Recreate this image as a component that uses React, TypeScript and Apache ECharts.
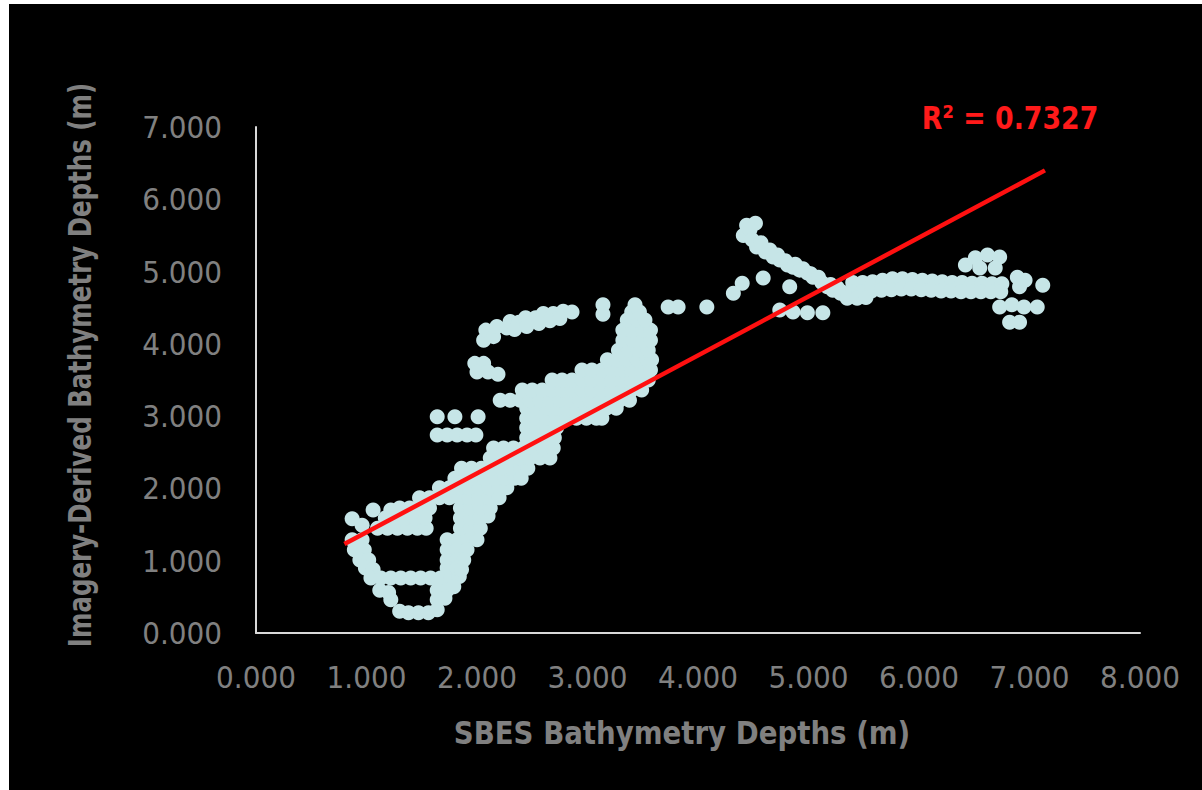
import React, { useEffect, useRef } from "react";
import * as echarts from "echarts";

// Tick labels
const xTickLabels = ["0.000", "1.000", "2.000", "3.000", "4.000", "5.000", "6.000", "7.000", "8.000"];
const yTickLabels = ["0.000", "1.000", "2.000", "3.000", "4.000", "5.000", "6.000", "7.000"];

// Scatter values [SBES depth, imagery-derived depth]
const lowerLoop: [number, number][] = [
  [0.87, 1.58], [0.96, 1.49], [1.06, 1.7], [1.22, 1.7],
  [0.87, 1.29], [0.96, 1.29], [0.89, 1.15], [0.98, 1.15], [0.94, 1.01], [1.02, 1.01], [0.99, 0.9], [1.06, 0.88],
  [1.04, 0.76], [1.13, 0.76], [1.22, 0.76], [1.31, 0.76], [1.4, 0.76], [1.49, 0.76], [1.58, 0.76], [1.67, 0.76], [1.76, 0.76], [1.84, 0.78],
  [1.12, 0.59], [1.2, 0.56], [1.64, 0.59], [1.73, 0.59], [1.79, 0.64],
  [1.22, 0.46], [1.64, 0.46], [1.71, 0.48],
  [1.3, 0.3], [1.38, 0.28], [1.47, 0.28], [1.56, 0.28], [1.64, 0.32],
  [1.73, 1.29], [1.82, 1.29], [1.91, 1.29], [2.0, 1.29], [1.73, 1.15], [1.82, 1.15], [1.91, 1.15],
  [1.73, 1.01], [1.82, 1.01], [1.88, 1.01], [1.73, 0.9], [1.82, 0.9], [1.86, 0.88],
  [1.1, 1.45], [1.19, 1.45], [1.28, 1.45], [1.37, 1.45], [1.46, 1.45], [1.54, 1.45], [1.85, 1.45], [1.94, 1.45], [2.03, 1.45],
  [1.17, 1.59], [1.26, 1.59], [1.35, 1.59], [1.44, 1.59], [1.53, 1.59], [1.85, 1.59], [1.94, 1.59], [2.03, 1.59], [2.1, 1.62],
  [1.3, 1.73], [1.39, 1.73], [1.48, 1.73], [1.57, 1.73], [1.85, 1.73], [1.94, 1.73], [2.03, 1.73], [2.12, 1.73],
  [1.48, 1.87], [1.57, 1.87], [1.66, 1.87], [1.75, 1.87], [1.84, 1.87], [1.93, 1.87], [2.02, 1.87], [2.11, 1.87], [2.2, 1.87],
];

const mainBand: [number, number][] = [
  [1.66, 2.01], [1.75, 2.01], [1.84, 2.01], [1.93, 2.01], [2.02, 2.01], [2.11, 2.01], [2.2, 2.01], [2.27, 2.01],
  [1.8, 2.14], [1.89, 2.14], [1.98, 2.14], [2.07, 2.14], [2.16, 2.14], [2.25, 2.14], [2.34, 2.14], [2.4, 2.14],
  [1.86, 2.28], [1.95, 2.28], [2.04, 2.28], [2.13, 2.28], [2.22, 2.28], [2.31, 2.28], [2.4, 2.28], [2.46, 2.28],
  [2.12, 2.42], [2.21, 2.42], [2.3, 2.42], [2.39, 2.42], [2.48, 2.42], [2.57, 2.42], [2.66, 2.42],
  [2.15, 2.56], [2.24, 2.56], [2.33, 2.56], [2.42, 2.56], [2.51, 2.56], [2.6, 2.56], [2.69, 2.56],
  [2.45, 2.7], [2.54, 2.7], [2.63, 2.7], [2.7, 2.7],
  [2.45, 2.84], [2.54, 2.84], [2.63, 2.84], [2.72, 2.84],
  [2.45, 2.97], [2.54, 2.97], [2.63, 2.97], [2.72, 2.97], [2.81, 2.97], [2.9, 2.97], [2.99, 2.97], [3.08, 2.97], [3.13, 2.97],
  [2.45, 3.11], [2.54, 3.11], [2.63, 3.11], [2.72, 3.11], [2.81, 3.11], [2.9, 3.11], [2.99, 3.11], [3.08, 3.11], [3.17, 3.11], [3.26, 3.11],
  [2.21, 3.22], [2.3, 3.22], [2.39, 3.22], [2.48, 3.22], [2.57, 3.22], [2.66, 3.22], [2.75, 3.22], [2.84, 3.22], [2.93, 3.22], [3.02, 3.22], [3.11, 3.22], [3.2, 3.22], [3.29, 3.22], [3.38, 3.22],
  [2.41, 3.36], [2.5, 3.36], [2.59, 3.36], [2.68, 3.36], [2.77, 3.36], [2.86, 3.36], [2.95, 3.36], [3.04, 3.36], [3.13, 3.36], [3.22, 3.36], [3.31, 3.36], [3.4, 3.36], [3.49, 3.36],
  [2.68, 3.5], [2.77, 3.5], [2.86, 3.5], [2.95, 3.5], [3.04, 3.5], [3.13, 3.5], [3.22, 3.5], [3.31, 3.5], [3.4, 3.5], [3.49, 3.5], [3.55, 3.5],
  [2.95, 3.64], [3.04, 3.64], [3.13, 3.64], [3.22, 3.64], [3.31, 3.64], [3.4, 3.64], [3.49, 3.64], [3.57, 3.64],
  [3.18, 3.78], [3.27, 3.78], [3.36, 3.78], [3.45, 3.78], [3.54, 3.78], [3.58, 3.78],
  [3.28, 3.91], [3.37, 3.91], [3.46, 3.91], [3.55, 3.91],
  [3.32, 4.05], [3.41, 4.05], [3.5, 4.05], [3.57, 4.05],
  [3.32, 4.19], [3.41, 4.19], [3.5, 4.19], [3.57, 4.19],
  [3.36, 4.33], [3.45, 4.33], [3.52, 4.33],
  [3.4, 4.44], [3.47, 4.44],
];

const upperArc: [number, number][] = [
  [2.06, 4.05], [2.08, 4.19], [2.15, 4.1], [2.18, 4.24], [2.27, 4.22], [2.3, 4.31], [2.38, 4.3], [2.44, 4.36],
  [2.53, 4.36], [2.6, 4.42], [2.69, 4.42], [2.78, 4.45], [2.86, 4.44],
  [2.34, 4.2], [2.45, 4.24], [2.56, 4.28], [2.66, 4.32], [2.75, 4.35],
  [1.98, 3.73], [2.06, 3.73], [2.0, 3.61], [2.1, 3.61], [2.19, 3.58],
  [1.64, 2.99], [1.8, 2.99], [2.01, 2.99],
  [1.64, 2.74], [1.73, 2.74], [1.82, 2.74], [1.91, 2.74], [1.99, 2.74],
  [3.14, 4.54], [3.14, 4.41], [3.43, 4.54], [3.73, 4.51], [3.82, 4.51], [4.08, 4.51],
];

const rightCluster: [number, number][] = [
  [4.44, 5.64], [4.52, 5.67], [4.41, 5.5], [4.47, 5.58], [4.49, 5.44], [4.53, 5.34], [4.57, 5.4], [4.61, 5.27], [4.65, 5.3],
  [4.68, 5.2], [4.72, 5.23], [4.74, 5.16], [4.79, 5.15], [4.81, 5.09], [4.86, 5.06], [4.88, 5.1], [4.92, 5.02], [4.95, 5.04],
  [4.99, 4.98], [5.02, 4.97], [5.04, 4.92], [5.09, 4.92], [5.12, 4.85], [5.17, 4.79], [5.2, 4.82], [5.22, 4.74], [5.26, 4.78], [5.29, 4.7],
  [5.4, 4.85], [5.49, 4.85], [5.58, 4.86], [5.67, 4.88], [5.76, 4.9], [5.85, 4.9], [5.94, 4.89], [6.03, 4.88],
  [6.12, 4.87], [6.21, 4.86], [6.3, 4.85], [6.39, 4.85], [6.48, 4.84], [6.57, 4.84], [6.66, 4.83], [6.75, 4.83],
  [5.3, 4.72], [5.39, 4.72], [5.48, 4.72], [5.57, 4.73], [5.66, 4.74], [5.75, 4.75], [5.84, 4.76], [5.93, 4.76], [6.02, 4.75],
  [6.11, 4.74], [6.2, 4.73], [6.29, 4.73], [6.38, 4.72], [6.47, 4.72], [6.56, 4.72], [6.65, 4.72], [6.74, 4.72],
  [5.35, 4.63], [5.44, 4.63], [5.52, 4.64],
  [6.42, 5.09], [6.51, 5.19], [6.62, 5.23], [6.73, 5.2], [6.55, 5.05], [6.69, 5.05],
  [6.89, 4.92], [6.91, 4.79], [7.12, 4.81], [6.96, 4.88],
  [6.73, 4.51], [6.84, 4.54], [6.95, 4.51], [7.07, 4.51], [6.82, 4.3], [6.91, 4.3],
  [4.32, 4.7], [4.4, 4.84], [4.59, 4.91], [4.83, 4.79],
  [4.74, 4.47], [4.86, 4.44], [4.99, 4.43], [5.13, 4.43],
];

// Linear trendline end points
const trendX = [0.8, 7.14];
const trendY = [1.23, 6.4];
const r2Label = "R² = 0.7327";

const xTitle = "SBES Bathymetry Depths (m)";
const yTitle = "Imagery-Derived Bathymetry Depths (m)";

const NARROW = '"Liberation Sans Narrow", "Arial Narrow", "DejaVu Sans Condensed", "Liberation Sans", sans-serif';

export default function App() {
  const ref = useRef<HTMLDivElement>(null);
  useEffect(() => {
    if (!ref.current) return;
    const chart = echarts.init(ref.current, undefined, { renderer: "svg" });
    const allPoints = [...lowerLoop, ...mainBand, ...upperArc, ...rightCluster];
    chart.setOption({
      animation: false,
      backgroundColor: "#000000",
      grid: { left: 247, top: 123, width: 884, height: 506 },
      xAxis: {
        type: "value",
        min: 0,
        max: 8,
        interval: 1,
        axisLine: { show: true, lineStyle: { color: "#d9d9d9", width: 2 } },
        axisTick: { show: false },
        splitLine: { show: false },
        axisLabel: {
          color: "#808080",
          fontSize: 31,
          fontFamily: NARROW,
          margin: 28,
          formatter: (v: number) => xTickLabels[Math.round(v)] ?? "",
        },
      },
      yAxis: {
        type: "value",
        min: 0,
        max: 7,
        interval: 1,
        axisLine: { show: true, lineStyle: { color: "#d9d9d9", width: 2 } },
        axisTick: { show: false },
        splitLine: { show: false },
        axisLabel: {
          color: "#808080",
          fontSize: 31,
          fontFamily: NARROW,
          margin: 34,
          formatter: (v: number) => yTickLabels[Math.round(v)] ?? "",
        },
      },
      series: [
        {
          type: "scatter",
          data: allPoints,
          symbol: "circle",
          symbolSize: 15,
          itemStyle: { color: "#c6e5e7", opacity: 1 },
          z: 2,
        },
        {
          type: "line",
          data: trendX.map((x, i) => [x, trendY[i]]),
          showSymbol: false,
          symbol: "none",
          lineStyle: { color: "#ff1010", width: 4.5 },
          z: 3,
        },
      ],
      graphic: [
        {
          type: "text",
          x: 71,
          y: 361,
          rotation: Math.PI / 2,
          scaleX: 0.85,
          style: {
            text: yTitle,
            fill: "#808080",
            font: `bold 32px ${NARROW}`,
            align: "center",
            verticalAlign: "middle",
          },
        },
        {
          type: "text",
          x: 673,
          y: 729,
          scaleX: 0.96,
          style: {
            text: xTitle,
            fill: "#808080",
            font: `bold 32px ${NARROW}`,
            align: "center",
            verticalAlign: "middle",
          },
        },
        {
          type: "text",
          x: 1001,
          y: 114,
          scaleX: 0.93,
          style: {
            text: r2Label,
            fill: "#ff1a1a",
            font: `bold 32px ${NARROW}`,
            align: "center",
            verticalAlign: "middle",
          },
        },
      ],
    });
    return () => chart.dispose();
  }, []);
  return (
    <div
      ref={ref}
      style={{ position: "absolute", left: 9, top: 4, width: 1193, height: 786 }}
    />
  );
}
